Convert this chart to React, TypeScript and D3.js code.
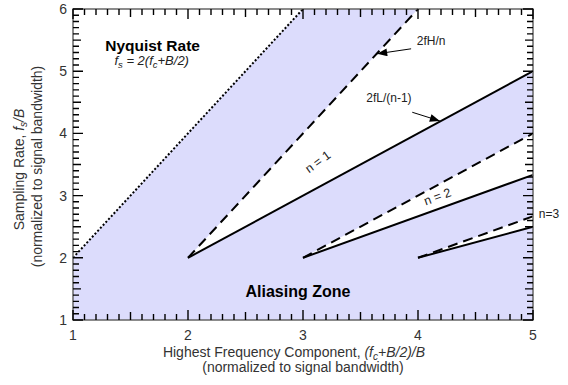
import React from 'react';
import * as d3 from 'd3';

// chart values
const xDomain = [1, 5];
const yDomain = [1, 6];
const xTickValues = [1, 2, 3, 4, 5];
const yTickValues = [1, 2, 3, 4, 5, 6];

// Nyquist rate line, fs = 2 fH
const nyquistLine: [number, number][] = [[1, 2], [3, 6]];
// band orders and their bounding lines (dashed = 2fH/n, solid = 2fL/(n-1))
const bandOrders = [1, 2, 3];
const upperLines: [number, number][][] = [
  [[2, 2], [4, 6]],
  [[3, 2], [5, 4]],
  [[4, 2], [5, 2.667]],
];
const lowerLines: [number, number][][] = [
  [[2, 2], [5, 5]],
  [[3, 2], [5, 3.333]],
  [[4, 2], [5, 2.5]],
];

const W = 568;
const H = 385;
const margin = { left: 73, right: 35, top: 9, bottom: 65 };
const FONT = '"Liberation Sans", Arial, sans-serif';

export default function App() {
  const x = d3.scaleLinear().domain(xDomain).range([margin.left, W - margin.right]);
  const y = d3.scaleLinear().domain(yDomain).range([H - margin.bottom, margin.top]);
  const line = d3.line<[number, number]>().x(d => x(d[0])).y(d => y(d[1]));

  const [x0, x1] = xDomain;
  const [y0, y1] = yDomain;

  // white (allowed) regions
  const topLeft: [number, number][] = [nyquistLine[0], [x0, y1], nyquistLine[1]];
  const wedges = bandOrders.map((n, i) => {
    const up = upperLines[i];
    const lo = lowerLines[i];
    const corner: [number, number][] =
      up[up.length - 1][1] === y1 && lo[lo.length - 1][0] === x1 ? [[x1, y1]] : [];
    return [...up, ...corner, ...lo.slice().reverse()];
  });

  const minorX = d3.range(0, Math.round((x1 - x0) * 10) + 1).map(i => x0 + i / 10);
  const minorY = d3.range(0, Math.round((y1 - y0) * 10) + 1).map(i => y0 + i / 10);
  const tickLen = (v: number) => {
    const r = Math.round(v * 10) % 10;
    if (r === 0) return 10;
    if (r === 5) return 8;
    return 6;
  };

  const left = x(x0), right = x(x1), top = y(y1), bottom = y(y0);

  // all ticks as one path
  let ticks = '';
  minorX.forEach(v => {
    const px = x(v);
    ticks += `M${px},${bottom}V${bottom - tickLen(v)}M${px},${top}V${top + tickLen(v)}`;
  });
  minorY.forEach(v => {
    const py = y(v);
    ticks += `M${left},${py}H${left + tickLen(v)}M${right},${py}H${right - tickLen(v)}`;
  });

  return (
    <svg width={W} height={H} style={{ position: 'absolute', left: 0, top: 0, background: '#fff' }}
      fontFamily={FONT}>
      <defs>
        <marker id="arr" viewBox="0 0 10 8" refX="10" refY="4" markerWidth="11" markerHeight="8"
          markerUnits="userSpaceOnUse" orient="auto">
          <path d="M0,0 L10,4 L0,8 Z" fill="#000" />
        </marker>
      </defs>

      <rect x={left} y={top} width={right - left} height={bottom - top} fill="#dcdcfc" />
      <path d={line(topLeft) + 'Z'} fill="#fff" />
      {wedges.map((w, i) => (
        <path key={'w' + i} d={line(w as [number, number][]) + 'Z'} fill="#fff" />
      ))}

      {/* bounding lines */}
      <path d={line(nyquistLine) || ''} fill="none" stroke="#000" strokeWidth={2}
        strokeDasharray="2,2" />
      {upperLines.map((l, i) => (
        <path key={'u' + i} d={line(l) || ''} fill="none" stroke="#000" strokeWidth={2}
          strokeDasharray="10,6" />
      ))}
      {lowerLines.map((l, i) => (
        <path key={'l' + i} d={line(l) || ''} fill="none" stroke="#000" strokeWidth={2} />
      ))}

      {/* frame and ticks */}
      <rect x={left} y={top} width={right - left} height={bottom - top} fill="none"
        stroke="#666" strokeWidth={1.5} />
      <path d={ticks} fill="none" stroke="#000" strokeWidth={1.4} />

      <g fontSize={14} fill="#333">
        {xTickValues.map(v => (
          <text key={'xl' + v} x={x(v)} y={bottom + 20} textAnchor="middle">{v}</text>
        ))}
        {yTickValues.map(v => (
          <text key={'yl' + v} x={left - 6} y={y(v) + 5} textAnchor="end">{v}</text>
        ))}
      </g>

      {/* axis titles */}
      <g fontSize={14} fill="#333" textAnchor="middle">
        <text x={(left + right) / 2 - 9} y={bottom + 37}>
          Highest Frequency Component, <tspan fontStyle="italic">(f</tspan>
          <tspan fontStyle="italic" fontSize={10} dy={3}>c</tspan>
          <tspan fontStyle="italic" dy={-3}>+B/2)/B</tspan>
        </text>
        <text x={(left + right) / 2} y={bottom + 52}>(normalized to signal bandwidth)</text>
        <g transform={`translate(24,${(top + bottom) / 2 + 5}) rotate(-90)`}>
          <text x={0} y={0}>
            Sampling Rate, <tspan fontStyle="italic">f</tspan>
            <tspan fontStyle="italic" fontSize={10} dy={3}>s</tspan>
            <tspan fontStyle="italic" dy={-3}>/B</tspan>
          </text>
        </g>
        <g transform={`translate(42,${(top + bottom) / 2 + 2}) rotate(-90)`}>
          <text x={0} y={0}>(normalized to signal bandwidth)</text>
        </g>
      </g>

      {/* annotations */}
      <text x={x(1.28)} y={y(5.32)} fontSize={15.5} fontWeight="bold" fill="#000">Nyquist Rate</text>
      <text x={x(1.36)} y={y(5.1)} fontSize={13} fontStyle="italic" fill="#222">
        f<tspan fontSize={9.5} dy={3}>s</tspan><tspan dy={-3}> = 2(f</tspan>
        <tspan fontSize={9.5} dy={3}>c</tspan><tspan dy={-3}>+B/2)</tspan>
      </text>
      <text x={x(2.5)} y={y(1.37)} fontSize={16} fontWeight="bold" fill="#000">Aliasing Zone</text>

      <text x={x(3.99)} y={y(5.42)} fontSize={12} fill="#222">2fH/n</text>
      <line x1={x(3.94)} y1={y(5.36)} x2={x(3.645)} y2={y(5.28)} stroke="#000" strokeWidth={1}
        markerEnd="url(#arr)" />
      <text x={x(3.55)} y={y(4.5)} fontSize={12} fill="#222">2fL/(n-1)</text>
      <line x1={x(3.95)} y1={y(4.34)} x2={x(4.19)} y2={y(4.2)} stroke="#000" strokeWidth={1}
        markerEnd="url(#arr)" />

      <text transform={`translate(${x(3.13)},${y(3.54)}) rotate(-36)`} fontSize={12.5}
        textAnchor="middle" dy={4} fill="#222">n = 1</text>
      <text transform={`translate(${x(4.17)},${y(2.98)}) rotate(-20)`} fontSize={12.5}
        textAnchor="middle" dy={4} fill="#222">n = 2</text>
      <text x={x(5.05)} y={y(2.64)} fontSize={12} fill="#222">n=3</text>
    </svg>
  );
}
